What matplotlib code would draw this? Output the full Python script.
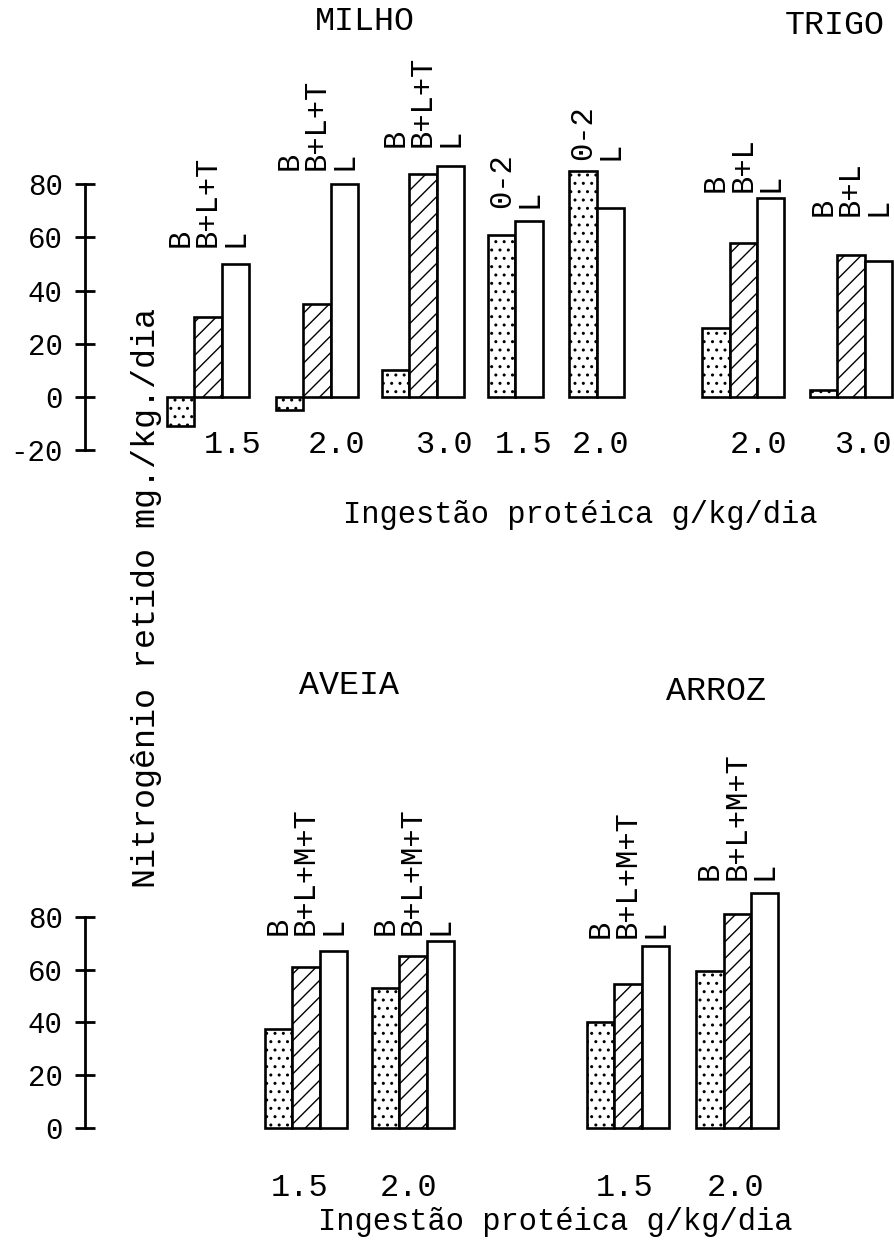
import matplotlib
matplotlib.use('Agg')
import matplotlib.pyplot as plt

plt.rcParams['font.family'] = ['Liberation Mono', 'DejaVu Sans Mono']
plt.rcParams['hatch.linewidth'] = 1.0

# ---------------- data ----------------
top_titles = ['MILHO', 'TRIGO']
top_ingestao = ['1.5', '2.0', '3.0', '1.5', '2.0', '2.0', '3.0']
top_series = [['B', 'B+L+T', 'L'], ['B', 'B+L+T', 'L'], ['B', 'B+L+T', 'L'],
              ['0-2', 'L'], ['0-2', 'L'],
              ['B', 'B+L', 'L'], ['B', 'B+L', 'L']]
top_values = [[-11, 30, 50], [-5, 35, 80], [10, 84, 87],
              [61, 66], [85, 71],
              [26, 58, 75], [2.5, 53.5, 51]]

bottom_titles = ['AVEIA', 'ARROZ']
bottom_ingestao = ['1.5', '2.0', '1.5', '2.0']
bottom_series = [['B', 'B+L+M+T', 'L']] * 4
bottom_values = [[37.5, 61, 67], [53, 65, 71], [40, 54.5, 69], [59.5, 81, 89]]

top_yticks = [-20, 0, 20, 40, 60, 80]
bottom_yticks = [0, 20, 40, 60, 80]
xlabel = 'Ingestão protéica g/kg/dia'
ylabel = 'Nitrogênio retido mg./kg./dia'

# ---------------- layout ----------------
U = 27.3  # px per bar-width unit
top_centers = [7.62, 11.61, 15.49, 18.88, 21.85, 27.22, 31.17]
top_tick_x = [8.53, 12.34, 16.26, 19.16, 22.01, 27.80, 31.61]
top_label_base = [56.4, 85.3, 94, 71, 89, 77, 68]
bottom_centers = [11.21, 15.13, 23.0, 27.0]
bottom_tick_x = [10.99, 14.98, 22.89, 26.96]
bottom_label_base = [73, 73, 72, 94]
axis_x = 3.11
XMAX = 32.78
BAR_W = 1.0
FS_YT = 21
FS_XT = 23
FS_BL = 22
FS_XL = 22
FS_YL = 24
FS_TI = 24

def style_for(lbl):
    if lbl in ('B', '0-2'):
        return dict(facecolor='white', hatch='..')
    if lbl == 'L':
        return dict(facecolor='white', hatch=None)
    return dict(facecolor='white', hatch='//')

fig = plt.figure(figsize=(8.95, 12.48), dpi=100)
ax_top = fig.add_axes([0, 1 - 480 / 1248, 1, 340 / 1248])
ax_bot = fig.add_axes([0, 0, 1, 398 / 1248])
ax_top.set_ylim((397 - 480) / 2.66, (397 - 140) / 2.66)
ax_bot.set_ylim((1128 - 1248) / 2.64, (1128 - 850) / 2.64)


def draw_panel(ax, centers, tick_x, series, values, ingestao, label_base, yticks, tick_y):
    ax.set_xlim(0, XMAX)
    for c, tx, labs, vals, ing, lb in zip(centers, tick_x, series, values, ingestao, label_base):
        n = len(vals)
        for i, (lab, v) in enumerate(zip(labs, vals)):
            x = c + (i - (n - 1) / 2) * BAR_W
            st = style_for(lab)
            ax.bar(x, v, width=BAR_W, facecolor=st['facecolor'], hatch=st['hatch'],
                   edgecolor='black', linewidth=1.9, zorder=2)
            ax.text(x, lb, lab, rotation=90, ha='center', va='bottom',
                    fontsize=FS_BL, clip_on=False)
        ax.text(tx, tick_y, ing, ha='center', va='center', fontsize=FS_XT, clip_on=False)
    for s in ['top', 'right', 'bottom']:
        ax.spines[s].set_visible(False)
    ax.spines['left'].set_position(('data', axis_x))
    ax.spines['left'].set_bounds(min(yticks), max(yticks))
    ax.spines['left'].set_linewidth(2)
    ax.set_yticks(yticks)
    ax.set_yticklabels([str(t) for t in yticks], fontsize=FS_YT)
    ax.tick_params(axis='y', direction='inout', length=14, width=2, pad=9)
    ax.set_xticks([])
    ax.patch.set_alpha(0)


draw_panel(ax_top, top_centers, top_tick_x, top_series, top_values, top_ingestao,
           top_label_base, top_yticks, -18)
draw_panel(ax_bot, bottom_centers, bottom_tick_x, bottom_series, bottom_values, bottom_ingestao,
           bottom_label_base, bottom_yticks, -22.7)

# titles and labels (figure pixel layout)
W, H = 895, 1248
def ftext(px, py, s, fs, **kw):
    fig.text(px / W, 1 - py / H, s, ha='center', va='center', fontsize=fs, **kw)

ftext(365, 22, top_titles[0], FS_TI)
ftext(835, 25, top_titles[1], FS_TI)
ftext(349, 686, bottom_titles[0], FS_TI)
ftext(716, 692, bottom_titles[1], FS_TI)
ftext(580, 515, xlabel, FS_XL)
ftext(555, 1222, xlabel, FS_XL)
ftext(147, 598, ylabel, FS_YL, rotation=90)

fig.savefig('out.png', dpi=100)
